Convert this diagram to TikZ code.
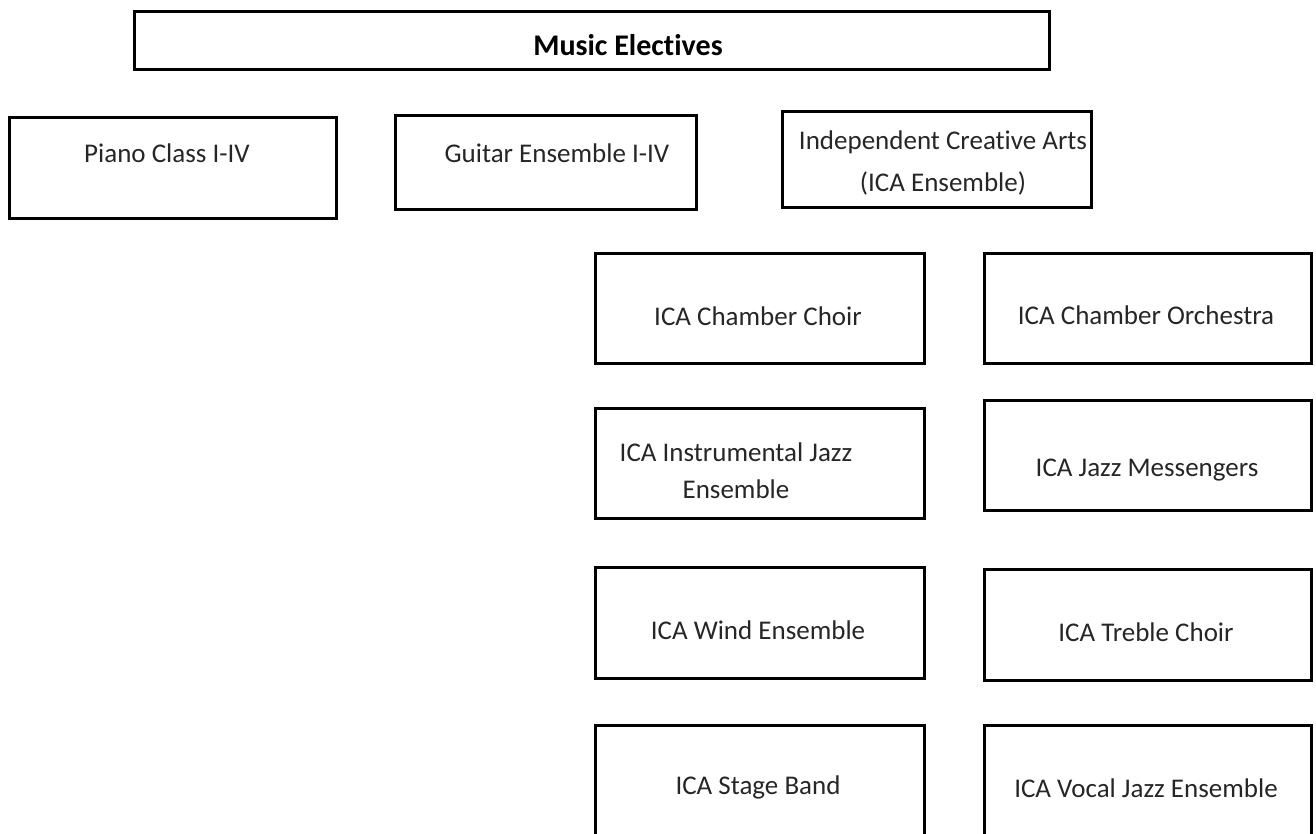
\documentclass[tikz,border=0pt]{standalone}
\usepackage{fontspec}
\setmainfont{Carlito}[Ligatures=NoCommon]
\begin{document}
\begin{tikzpicture}[x=1pt,y=-1pt,
  box/.style={draw=black, line width=2.6pt, rectangle, inner sep=0pt, anchor=north west},
  lbl/.style={font=\fontsize{27}{37}\selectfont, text=black!85, align=center, inner sep=0pt},
  ttl/.style={font=\fontsize{30}{36}\selectfont\bfseries, text=black, inner sep=0pt}]
\useasboundingbox (0,0) rectangle (1316,833);
\clip (0,0) rectangle (1316,833);
% heading
\node[box, minimum width=915pt, minimum height=58pt] (title) at (133,10) {};
\node[ttl] (titletext) at (628,45) {Music Electives};
% first row of electives
\node[box, minimum width=327pt, minimum height=101pt] (piano) at (8,116) {};
\node[lbl] (pianotext) at (167,153) {Piano Class I-IV};
\node[box, minimum width=301pt, minimum height=94pt] (guitar) at (394,114) {};
\node[lbl] (guitartext) at (557,153) {Guitar Ensemble I-IV};
\node[box, minimum width=309pt, minimum height=96pt] (ica) at (781,110) {};
\node[lbl, font=\fontsize{27}{42}\selectfont] (icatext) at (943,163) {Independent Creative Arts\\(ICA Ensemble)};
% ICA ensembles, left column
\node[box, minimum width=329pt, minimum height=110pt] (choir) at (594,252) {};
\node[lbl] (choirtext) at (758,316) {ICA Chamber Choir};
\node[box, minimum width=329pt, minimum height=110pt] (instjazz) at (594,407) {};
\node[lbl] (instjazztext) at (736,471) {ICA Instrumental Jazz\\Ensemble};
\node[box, minimum width=329pt, minimum height=111pt] (wind) at (594,566) {};
\node[lbl] (windtext) at (758,630) {ICA Wind Ensemble};
\node[box, minimum width=329pt, minimum height=112pt] (stage) at (594,724) {};
\node[lbl] (stagetext) at (758,787) {ICA Stage Band};
% ICA ensembles, right column
\node[box, minimum width=327pt, minimum height=110pt] (orch) at (983,252) {};
\node[lbl] (orchtext) at (1146,315) {ICA Chamber Orchestra};
\node[box, minimum width=327pt, minimum height=110pt] (messengers) at (983,399) {};
\node[lbl] (messengerstext) at (1147,470) {ICA Jazz Messengers};
\node[box, minimum width=327pt, minimum height=111pt] (treble) at (983,568) {};
\node[lbl] (trebletext) at (1146,632) {ICA Treble Choir};
\node[box, minimum width=327pt, minimum height=112pt] (vocal) at (983,724) {};
\node[lbl] (vocaltext) at (1146,788) {ICA Vocal Jazz Ensemble};
\end{tikzpicture}
\end{document}
